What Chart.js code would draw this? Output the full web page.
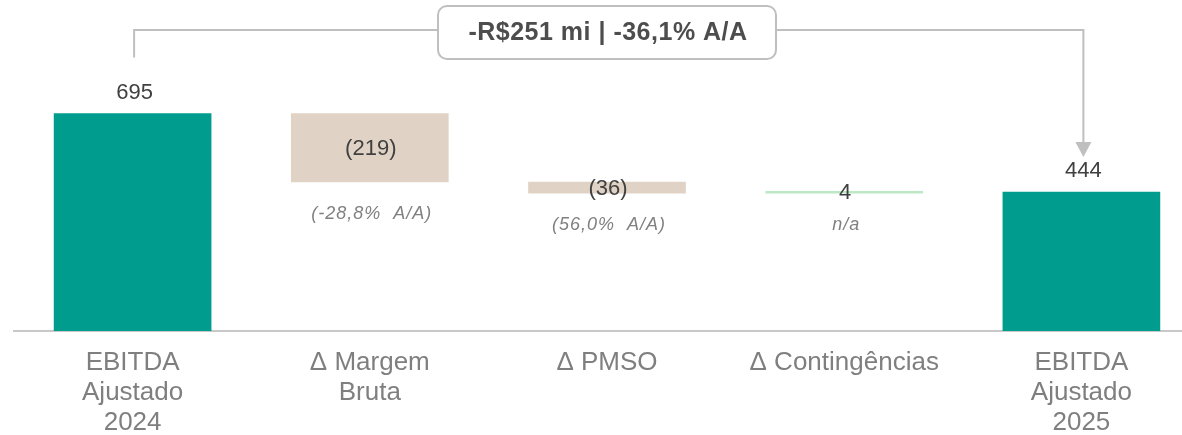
<!DOCTYPE html>
<html>
<head>
<meta charset="utf-8">
<script src="https://cdn.jsdelivr.net/npm/chart.js@4/dist/chart.umd.min.js"></script>
<style>
    html, body { margin: 0; padding: 0; background: #ffffff; overflow: hidden; }
    #grafico { display: block; }
</style>
</head>
<body>
<canvas id="grafico" width="1200" height="435"></canvas>
<script>
const categorias = [
    ["EBITDA", "Ajustado", "2024"],
    ["Δ Margem", "Bruta"],
    ["Δ PMSO"],
    ["Δ Contingências"],
    ["EBITDA", "Ajustado", "2025"]
];
const tipos = ["total", "delta", "delta", "delta", "total"];
const valores = [695, -219, -36, 4, 444];
const rotulosValor = ["695", "(219)", "(36)", "4", "444"];
const variacoes = ["", "(-28,8%  A/A)", "(56,0%  A/A)", "n/a", ""];
const destaque = "-R$251 mi | -36,1% A/A";

const corTotal = "#009C8E";
const corQueda = "#E0D3C6";
const corAlta = "#BDE8C6";
const corCinza = "#BFBFBF";

Chart.defaults.font.family = "'Liberation Sans', Arial, sans-serif";

// monta as faixas flutuantes da cascata
let acumulado = 0;
const faixas = valores.map((v, i) => {
    if (tipos[i] === "total") {
        acumulado = v;
        return [0, v];
    }
    const inicio = acumulado;
    acumulado += v;
    return [inicio, acumulado];
});
const cores = valores.map((v, i) => tipos[i] === "total" ? corTotal : (v < 0 ? corQueda : corAlta));

function escreve(ctx, texto, x, y, fonte, cor, espaco) {
    ctx.font = fonte;
    ctx.fillStyle = cor;
    ctx.letterSpacing = espaco || "0px";
    ctx.textAlign = "center";
    ctx.textBaseline = "middle";
    ctx.fillText(texto, x, y);
    ctx.letterSpacing = "0px";
}

const rotulosPlugin = {
    id: "rotulos",
    afterDatasetsDraw(chart) {
        const ctx = chart.ctx;
        const meta = chart.getDatasetMeta(0);
        const escalaY = chart.scales.y;
        const escalaX = chart.scales.x;
        ctx.save();

        meta.data.forEach((barra, i) => {
            const topo = Math.min(barra.y, barra.base);
            const fundo = Math.max(barra.y, barra.base);
            if (tipos[i] === "total") {
                escreve(ctx, rotulosValor[i], barra.x + 2, topo - 21, "22px 'Liberation Sans'", "#404040");
            } else {
                escreve(ctx, rotulosValor[i], barra.x + 1, (topo + fundo) / 2 + 1, "22px 'Liberation Sans'", "#404040");
                escreve(ctx, variacoes[i], barra.x + 2, fundo + 32, "italic 18px 'Liberation Sans'", "#808080", "1px");
            }
        });

        // colchete entre os dois totais
        const ultimo = valores.length - 1;
        const xIni = escalaX.getPixelForValue(0) + 1.5;
        const xFim = escalaX.getPixelForValue(ultimo) + 2;
        const yLinha = 30;
        const yIni = escalaY.getPixelForValue(valores[0]) - 56;
        const yPonta = escalaY.getPixelForValue(valores[ultimo]) - 35;

        ctx.strokeStyle = corCinza;
        ctx.lineWidth = 2;
        ctx.beginPath();
        ctx.moveTo(xIni, yIni);
        ctx.lineTo(xIni, yLinha);
        ctx.lineTo(xFim, yLinha);
        ctx.lineTo(xFim, yPonta - 15);
        ctx.stroke();

        ctx.fillStyle = corCinza;
        ctx.beginPath();
        ctx.moveTo(xFim - 8, yPonta - 15);
        ctx.lineTo(xFim + 8, yPonta - 15);
        ctx.lineTo(xFim, yPonta);
        ctx.closePath();
        ctx.fill();

        // caixa com a variação total
        const xCaixa = escalaX.getPixelForValue(2);
        ctx.beginPath();
        ctx.roundRect(xCaixa - 169, 6, 338, 53, 9);
        ctx.fillStyle = "#ffffff";
        ctx.fill();
        ctx.strokeStyle = corCinza;
        ctx.lineWidth = 2;
        ctx.stroke();
        escreve(ctx, destaque, xCaixa + 1, 33, "bold 25px 'Liberation Sans'", "#4D4D4D", "0.5px");

        ctx.restore();
    }
};

new Chart(document.getElementById("grafico").getContext("2d"), {
    type: "bar",
    data: {
        labels: categorias,
        datasets: [{
            data: faixas,
            backgroundColor: cores,
            borderWidth: 0,
            barThickness: 157,
            minBarLength: 2
        }]
    },
    options: {
        responsive: false,
        animation: false,
        layout: { padding: { left: 14, right: 0, top: 18, bottom: 0 } },
        plugins: {
            legend: { display: false },
            tooltip: { enabled: false }
        },
        scales: {
            x: {
                afterFit: (escala) => { escala.height = 104; },
                grid: { display: false, drawTicks: false },
                border: { display: true, color: "#C8C8C8", width: 2 },
                ticks: {
                    autoSkip: false,
                    maxRotation: 0,
                    padding: 17,
                    color: "#7F7F7F",
                    font: { size: 26, lineHeight: 1.15 }
                }
            },
            y: {
                display: false,
                min: 0,
                max: 1000
            }
        }
    },
    plugins: [rotulosPlugin]
});
</script>
</body>
</html>
